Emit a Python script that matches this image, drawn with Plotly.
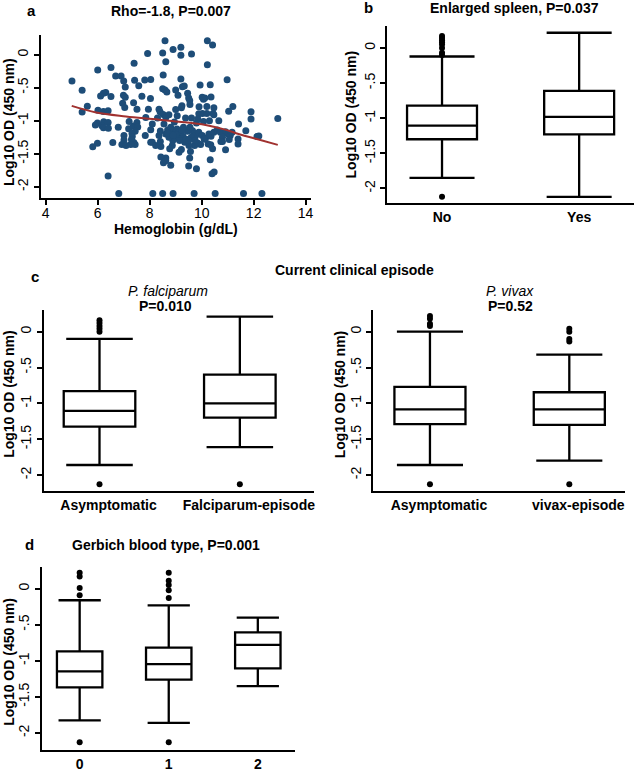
import plotly.graph_objects as go

# ---------------- Panel a: scatter data ----------------
hb = [8.59, 10.22, 10.42, 9.2, 8.9, 7.92, 8.5, 9.61, 9.2, 8.62,
      7.4, 10.22, 6.0, 6.51, 6.69, 6.9, 7.0, 7.42, 7.81, 8.04,
      8.52, 9.2, 10.98, 5.01, 5.4, 7.06, 7.58, 8.5, 8.59, 8.66,
      9.0, 9.26, 9.33, 9.94, 10.33, 6.31, 6.22, 6.11, 6.51, 6.99,
      7.06, 7.7, 7.38, 8.03, 9.09, 9.46, 9.5, 10.02, 10.12, 10.36,
      9.54, 9.55, 10.07, 9.24, 9.22, 9.9, 10.2, 10.47, 11.2, 11.04,
      6.96, 7.04, 7.51, 8.36, 5.6, 6.01, 6.22, 6.4, 5.4, 7.95,
      8.4, 8.52, 8.62, 8.3, 8.74, 9.0, 9.06, 9.38, 9.61, 9.89,
      10.03, 10.2, 10.44, 10.47, 10.3, 10.07, 9.85, 9.8, 10.66, 11.9,
      12.93, 11.9, 5.99, 6.23, 6.4, 6.16, 5.91, 6.22, 6.41, 6.79,
      7.19, 7.37, 7.51, 7.21, 7.54, 7.44, 7.32, 7.33, 7.3, 7.39,
      7.44, 7.27, 7.01, 7.01, 6.93, 6.58, 5.99, 5.81, 7.09, 7.83,
      8.04, 8.1, 8.36, 8.41, 8.62, 8.69, 8.81, 8.87, 9.0, 9.05,
      9.13, 9.2, 9.28, 9.22, 9.13, 9.0, 8.89, 8.74, 9.35, 9.45,
      9.55, 9.65, 9.7, 9.77, 9.89, 10.02, 10.15, 10.28, 10.36, 10.47,
      10.6, 10.72, 10.92, 11.02, 11.1, 11.17, 11.42, 11.7, 12.13, 12.2,
      11.4, 11.06, 10.8, 10.8, 11.4, 10.92, 10.74, 10.25, 9.96, 9.86,
      9.73, 9.51, 9.57, 9.22, 9.13, 8.87, 8.77, 8.43, 8.23, 8.41,
      10.35, 10.42, 10.33, 9.54, 9.5, 9.8, 10.4, 10.48, 8.62, 8.43,
      8.53, 8.62, 8.81, 6.4, 7.85, 8.1, 8.04, 8.55, 8.95, 9.3,
      9.4, 9.0, 8.7, 9.15, 9.6, 9.75, 10.1, 8.9, 9.25, 9.5,
      6.81, 8.12, 8.5, 8.9, 9.71, 10.52, 11.61, 12.32]
od = [0.21, 0.21, 0.145, 0.11, 0.075, 0.015, 0.025, 0.01, -0.01, -0.11,
      -0.13, -0.155, -0.235, -0.195, -0.325, -0.325, -0.4, -0.39, -0.385, -0.375,
      -0.31, -0.37, -0.38, -0.4, -0.54, -0.49, -0.47, -0.515, -0.535, -0.565,
      -0.535, -0.485, -0.475, -0.46, -0.455, -0.575, -0.585, -0.625, -0.635, -0.615,
      -0.645, -0.63, -0.73, -0.665, -0.615, -0.585, -0.655, -0.645, -0.655, -0.64,
      -0.695, -0.755, -0.675, -0.775, -0.805, -0.79, -0.785, -0.805, -0.785, -0.855,
      -0.735, -0.8, -0.825, -0.825, -0.78, -0.84, -0.86, -0.85, -0.87, -0.825,
      -0.865, -0.905, -0.95, -0.96, -0.91, -0.83, -0.925, -0.96, -0.96, -0.895,
      -0.89, -0.89, -0.89, -0.91, -1.0, -1.01, -0.975, -1.035, -1.0, -0.975,
      -0.965, -0.865, -1.035, -1.015, -1.025, -1.075, -1.065, -1.105, -1.115, -1.1,
      -1.12, -1.08, -1.025, -1.01, -1.095, -1.16, -1.195, -1.24, -1.285, -1.33,
      -1.36, -1.36, -1.225, -1.29, -1.36, -1.33, -1.34, -1.395, -1.375, -1.225,
      -1.325, -1.325, -1.225, -1.155, -1.2, -1.14, -1.1, -1.15, -1.175, -1.125,
      -1.175, -1.2, -1.235, -1.275, -1.275, -1.25, -1.3, -1.25, -1.325, -1.16,
      -1.1, -1.15, -1.2, -1.225, -1.175, -1.225, -1.265, -1.2, -1.235, -1.175,
      -1.14, -1.175, -1.165, -1.2, -1.225, -1.175, -1.05, -1.15, -1.24, -1.23,
      -1.275, -1.285, -1.25, -1.315, -1.35, -1.44, -1.315, -1.35, -1.36, -1.34,
      -1.375, -1.375, -1.465, -1.435, -1.475, -1.375, -1.425, -1.39, -1.375, -1.315,
      -1.365, -1.425, -1.59, -1.565, -1.685, -1.725, -1.8, -1.775, -1.565, -1.55,
      -1.635, -1.605, -1.675, -1.835, -0.95, -1.05, -1.135, -1.05, -1.02, -1.1,
      -1.28, -1.21, -1.19, -1.3, -1.25, -1.3, -1.28, -1.22, -1.14, -1.3,
      -2.1, -2.1, -2.1, -2.1, -2.1, -2.1, -2.1, -2.1]
fit_x = [5.0, 5.94, 7.09, 8.11, 9.13, 10.15, 10.91, 11.42, 12.19, 12.93]
fit_y = [-0.775, -0.875, -0.935, -0.975, -1.015, -1.065, -1.135, -1.2, -1.285, -1.365]

# ---------------- Panel b ----------------
b_cats = ["No", "Yes"]
b_q1 = [-1.30, -1.23]
b_med = [-1.106, -0.98]
b_q3 = [-0.82, -0.61]
b_lo = [-1.85, -2.12]
b_hi = [-0.122, 0.216]
b_out_cat = ["No"] * 9
b_out_val = [0.17, 0.14, 0.11, 0.08, 0.05, 0.0, -0.07, -0.1, -2.12]

# ---------------- Panel c (falciparum) ----------------
cf_cats = ["Asymptomatic", "Falciparum-episode"]
cf_q1 = [-1.325, -1.20]
cf_med = [-1.106, -1.0]
cf_q3 = [-0.83, -0.60]
cf_lo = [-1.86, -1.61]
cf_hi = [-0.10, 0.21]
cf_out_cat = ["Asymptomatic"] * 6 + ["Falciparum-episode"]
cf_out_val = [0.16, 0.12, 0.08, 0.04, 0.0, -2.13, -2.13]

# ---------------- Panel c (vivax) ----------------
cv_cats = ["Asymptomatic", "vivax-episode"]
cv_q1 = [-1.29, -1.30]
cv_med = [-1.085, -1.085]
cv_q3 = [-0.77, -0.845]
cv_lo = [-1.86, -1.80]
cv_hi = [0.0, -0.32]
cv_out_cat = ["Asymptomatic"] * 5 + ["vivax-episode"] * 5
cv_out_val = [0.22, 0.18, 0.11, 0.08, -2.13, 0.04, 0.0, -0.10, -0.135, -2.13]

# ---------------- Panel d ----------------
d_cats = ["0", "1", "2"]
d_q1 = [-1.367, -1.26, -1.105]
d_med = [-1.147, -1.046, -0.78]
d_q3 = [-0.87, -0.817, -0.605]
d_lo = [-1.826, -1.86, -1.35]
d_hi = [-0.16, -0.23, -0.40]
d_out_cat = ["0"] * 5 + ["1"] * 6
d_out_val = [0.22, 0.17, 0.01, -0.09, -2.13, 0.22, 0.11, 0.05, -0.02, -0.13, -2.13]

y_tickvals = [0, -0.5, -1, -1.5, -2]
y_ticktext = ["0", "-.5", "-1", "-1.5", "-2"]

W, H = 638, 772
FONT = "Liberation Sans, Arial, Helvetica, sans-serif"


def fx(p):
    return p / W


def fy(p):
    return 1 - p / H


fig = go.Figure()

fig.add_trace(go.Scatter(x=hb, y=od, mode="markers",
                         marker=dict(color="#1e4d78", size=7),
                         xaxis="x", yaxis="y"))
fig.add_trace(go.Scatter(x=fit_x, y=fit_y, mode="lines", line_shape="spline",
                         line=dict(color="#a0312f", width=2),
                         xaxis="x", yaxis="y"))


def add_boxes(cats, q1, med, q3, lo, hi, ocat, oval, xa, ya):
    fig.add_trace(go.Box(x=cats, q1=q1, median=med, q3=q3,
                         lowerfence=lo, upperfence=hi,
                         width=0.51, whiskerwidth=0.93,
                         fillcolor="white", boxpoints=False,
                         line=dict(color="black", width=2.3),
                         xaxis=xa, yaxis=ya))
    if ocat:
        fig.add_trace(go.Scatter(x=ocat, y=oval, mode="markers",
                                 marker=dict(color="black", size=6),
                                 xaxis=xa, yaxis=ya))


add_boxes(b_cats, b_q1, b_med, b_q3, b_lo, b_hi, b_out_cat, b_out_val, "x2", "y2")
add_boxes(cf_cats, cf_q1, cf_med, cf_q3, cf_lo, cf_hi, cf_out_cat, cf_out_val, "x3", "y3")
add_boxes(cv_cats, cv_q1, cv_med, cv_q3, cv_lo, cv_hi, cv_out_cat, cv_out_val, "x4", "y4")
add_boxes(d_cats, d_q1, d_med, d_q3, d_lo, d_hi, d_out_cat, d_out_val, "x5", "y5")

line_common = dict(showline=True, linecolor="black", linewidth=2,
                   showgrid=False, zeroline=False, mirror=False)

yax_common = dict(line_common, ticks="outside", ticklen=5, tickwidth=1.5,
                  tickcolor="black", tickvals=y_tickvals, ticktext=y_ticktext,
                  tickangle=-90,
                  tickfont=dict(family=FONT, size=14, color="black"))

xcat_common = dict(line_common, type="category", ticks="",
                   tickfont=dict(family=FONT, size=14, color="black", weight="bold"))

layout_axes = dict(
    xaxis=dict(line_common, domain=[fx(41), fx(312)], range=[3.81, 14.19],
               anchor="y", ticks="outside", ticklen=5, tickwidth=1.5, tickcolor="black",
               tickvals=[4, 6, 8, 10, 12, 14], ticklabelstandoff=-4,
               tickfont=dict(family=FONT, size=14, color="black")),
    yaxis=dict(yax_common, domain=[fy(200), fy(35)], range=[-2.175, 0.30], anchor="x"),

    xaxis2=dict(xcat_common, domain=[fx(389), fx(637)], range=[-0.4, 1.4],
                categoryorder="array", categoryarray=b_cats, anchor="y2"),
    yaxis2=dict(yax_common, domain=[fy(205), fy(26)], range=[-2.213, 0.315], anchor="x2"),

    xaxis3=dict(xcat_common, domain=[fx(44), fx(315)], range=[-0.397, 1.525],
                categoryorder="array", categoryarray=cf_cats, anchor="y3",
                ticklabelshift=9),
    yaxis3=dict(yax_common, domain=[fy(495), fy(312)], range=[-2.225, 0.309], anchor="x3"),

    xaxis4=dict(xcat_common, domain=[fx(375), fx(628)], range=[-0.407, 1.4],
                categoryorder="array", categoryarray=cv_cats, anchor="y4",
                ticklabelshift=9),
    yaxis4=dict(yax_common, domain=[fy(495), fy(312)], range=[-2.225, 0.309], anchor="x4"),

    xaxis5=dict(xcat_common, domain=[fx(42), fx(296)], range=[-0.425, 2.413],
                categoryorder="array", categoryarray=d_cats, anchor="y5"),
    yaxis5=dict(yax_common, domain=[fy(756), fy(571)], range=[-2.238, 0.307], anchor="x5"),
)


def ann(text, x, y, size=14, bold=True, italic=False, angle=0):
    return dict(text=text, x=fx(x), y=fy(y), xref="paper", yref="paper",
                showarrow=False, xanchor="center", yanchor="middle",
                textangle=angle,
                font=dict(family=FONT, size=size, color="black",
                          weight="bold" if bold else "normal",
                          style="italic" if italic else "normal"))


YT = "Log10 OD (450 nm)"
annotations = [
    ann("a", 32, 11, size=15),
    ann("Rho=-1.8, P=0.007", 172, 11),
    ann(YT, 9, 123, angle=-90),
    ann("Hemoglobin (g/dL)", 177, 231),
    ann("b", 370, 8, size=15),
    ann("Enlarged spleen, P=0.037", 517, 8),
    ann(YT, 353, 115, angle=-90),
    ann("Current clinical episode", 356, 272),
    ann("c", 35, 279, size=15),
    ann("P. falciparum", 169, 293, bold=False, italic=True),
    ann("P=0.010", 166, 308),
    ann(YT, 9, 397, angle=-90),
    ann("P. vivax", 512, 293, bold=False, italic=True),
    ann("P=0.52", 513, 308),
    ann(YT, 342, 397, angle=-90),
    ann("d", 30, 549, size=15),
    ann("Gerbich blood type, P=0.001", 167, 549),
    ann(YT, 9, 667, angle=-90),
]

fig.update_layout(
    width=W, height=H,
    margin=dict(l=0, r=0, t=0, b=0),
    paper_bgcolor="white", plot_bgcolor="white",
    showlegend=False,
    annotations=annotations,
    **layout_axes,
)

fig.write_html("out.html", config={"displayModeBar": False},
               post_script="document.body.style.margin='0px';")
